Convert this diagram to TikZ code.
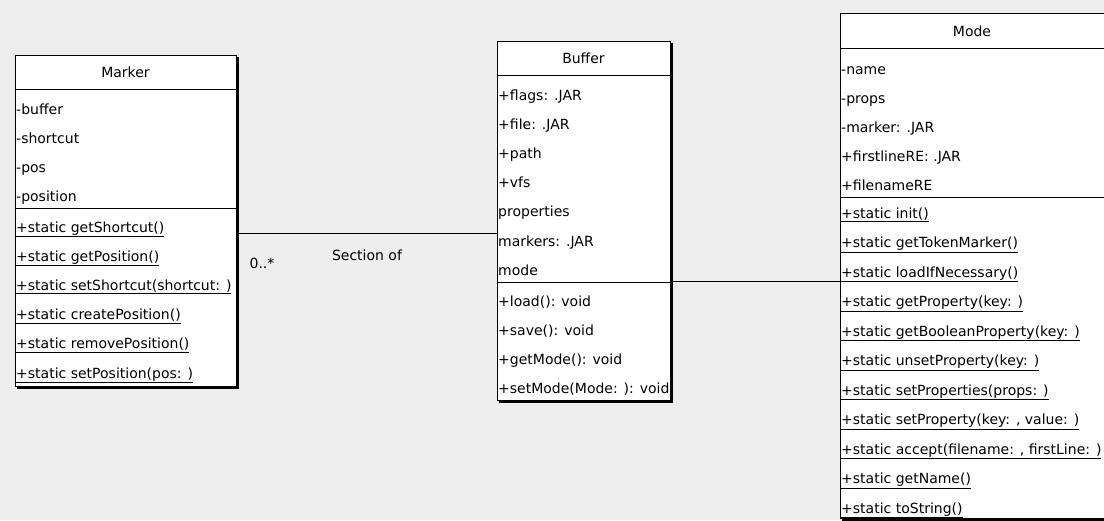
\documentclass[tikz,border=0pt]{standalone}
\usepackage{fontspec}
\newfontfamily\umlfont{DejaVu Sans}
\definecolor{umlCanvas}{HTML}{EEEEEE}
\newcommand{\umltext}{\umlfont\fontsize{14}{16}\selectfont}
\newcommand{\stat}[1]{\underline{#1}}
\tikzset{
  classbox/.style={draw=black, fill=white, line width=1pt, anchor=north west, inner sep=0pt},
  shadowline/.style={line width=2pt},
  classname/.style={anchor=base, inner sep=0pt, font=\umltext},
  member/.style={anchor=base west, inner sep=0pt, font=\umltext},
  assoclabel/.style={anchor=base, inner sep=0pt, font=\umltext}
}

\begin{document}
\begin{tikzpicture}[x=1pt, y=-1pt]
  \fill[umlCanvas] (0,0) rectangle (1104,520);
  \clip (0,0) rectangle (1104,520);

  % Marker
  \node[classbox, minimum width=221pt, minimum height=331pt] (marker) at (15,55) {};
  \draw[shadowline] ([shift={(1,2)}]marker.north east) -- ([shift={(1,1)}]marker.south east) -- ([shift={(2,1)}]marker.south west);
  \draw (marker.west |- 0,89) -- (marker.east |- 0,89);
  \draw (marker.west |- 0,208) -- (marker.east |- 0,208);
  \node[classname] (markerName) at (125.5,77) {Marker};
  \foreach \txt [count=\i] in {-buffer,-shortcut,-pos,-position}
    \node[member] (markerAttr\i) at (16,{114+(\i-1)*29.3}) {\txt};
  \foreach \txt [count=\i] in {{\stat{+static getShortcut()}},{\stat{+static getPosition()}},
      {\stat{+static setShortcut(shortcut: )}},{\stat{+static createPosition()}},
      {\stat{+static removePosition()}},{\stat{+static setPosition(pos: )}}}
    \node[member] (markerOp\i) at (16,{232+(\i-1)*29.2}) {\txt};

  % Buffer
  \node[classbox, minimum width=173pt, minimum height=359pt] (buffer) at (497,41) {};
  \draw[shadowline] ([shift={(1,2)}]buffer.north east) -- ([shift={(1,1)}]buffer.south east) -- ([shift={(2,1)}]buffer.south west);
  \draw (buffer.west |- 0,75) -- (buffer.east |- 0,75);
  \draw (buffer.west |- 0,282) -- (buffer.east |- 0,282);
  \node[classname] (bufferName) at (583.5,63) {Buffer};
  \foreach \txt [count=\i] in {+flags: .JAR,+file: .JAR,+path,+vfs,properties,markers: .JAR,mode}
    \node[member] (bufferAttr\i) at (498,{100+(\i-1)*29.2}) {\txt};
  \foreach \txt [count=\i] in {+load(): void,+save(): void,+getMode(): void,+setMode(Mode: ): void}
    \node[member] (bufferOp\i) at (498,{306+(\i-1)*29.2}) {\txt};

  % Mode
  \node[classbox, minimum width=272pt, minimum height=505pt] (mode) at (840,13) {};
  \draw[shadowline] ([shift={(1,2)}]mode.north east) -- ([shift={(1,1)}]mode.south east) -- ([shift={(2,1)}]mode.south west);
  \draw (mode.west |- 0,48) -- (mode.east |- 0,48);
  \draw (mode.west |- 0,197) -- (mode.east |- 0,197);
  \node[classname] (modeName) at (972,36) {Mode};
  \foreach \txt [count=\i] in {-name,-props,-marker: .JAR,+firstlineRE: .JAR,+filenameRE}
    \node[member] (modeAttr\i) at (841,{74+(\i-1)*29.2}) {\txt};
  \foreach \txt [count=\i] in {{\stat{+static init()}},{\stat{+static getTokenMarker()}},
      {\stat{+static loadIfNecessary()}},{\stat{+static getProperty(key: )}},
      {\stat{+static getBooleanProperty(key: )}},{\stat{+static unsetProperty(key: )}},
      {\stat{+static setProperties(props: )}},{\stat{+static setProperty(key: , value: )}},
      {\stat{+static accept(filename: , firstLine: )}},{\stat{+static getName()}},
      {\stat{+static toString()}}}
    \node[member] (modeOp\i) at (841,{218+(\i-1)*29.5}) {\txt};

  % associations
  \draw ([xshift=1pt]marker.east |- 0,233) -- (buffer.west |- 0,233);
  \draw ([xshift=1pt]buffer.east |- 0,281) -- (mode.west |- 0,281);
  \node[assoclabel] (markerMult) at (262,268) {0..*};
  \node[assoclabel] (sectionOf) at (367,260) {Section of};
\end{tikzpicture}
\end{document}
